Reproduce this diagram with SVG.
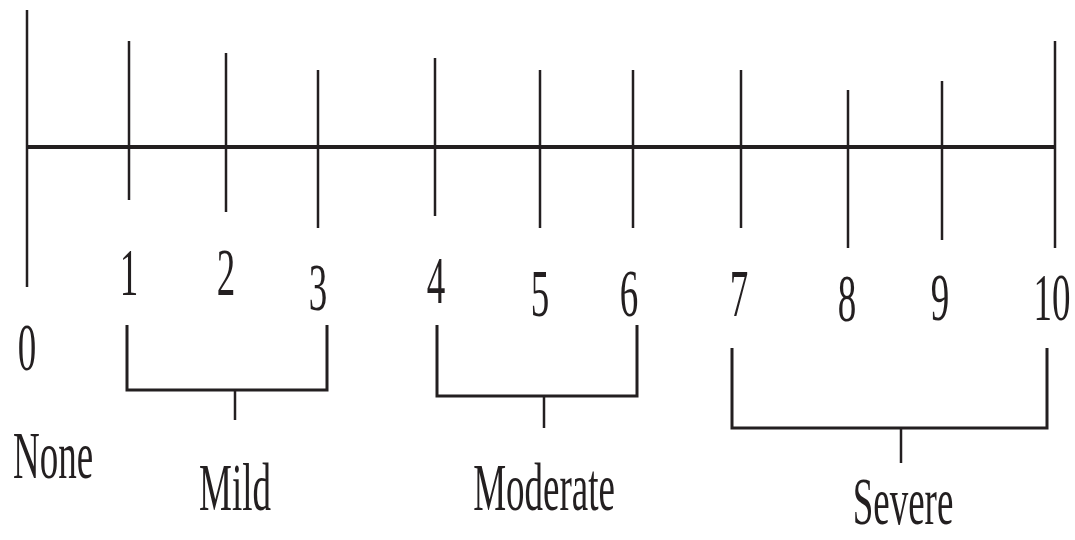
<svg xmlns="http://www.w3.org/2000/svg" width="1075" height="540" viewBox="0 0 1075 540">
<style>
.ln{stroke:#231f20;fill:none;stroke-width:2.5}
.main{stroke:#231f20;stroke-width:4}
.br{stroke:#231f20;fill:none;stroke-width:3}
text{font-family:"Liberation Serif","Times New Roman",serif;font-size:37px;fill:#231f20;text-anchor:middle}
</style>
<rect width="1075" height="540" fill="#fff"/>
<g id="connectors">
<line class="main" x1="27" y1="147" x2="1055" y2="147"/>
</g>
<g id="tick0"><line class="ln" x1="27" y1="10" x2="27" y2="287"/><text transform="translate(27,370) scale(1,1.85)">0</text></g>
<g id="tick1"><line class="ln" x1="129" y1="41" x2="129" y2="200"/><text transform="translate(129,295) scale(1,1.85)">1</text></g>
<g id="tick2"><line class="ln" x1="226" y1="53" x2="226" y2="212"/><text transform="translate(226,295) scale(1,1.85)">2</text></g>
<g id="tick3"><line class="ln" x1="318" y1="70" x2="318" y2="228"/><text transform="translate(318,310) scale(1,1.85)">3</text></g>
<g id="tick4"><line class="ln" x1="435" y1="58" x2="435" y2="216"/><text transform="translate(436,303) scale(1,1.85)">4</text></g>
<g id="tick5"><line class="ln" x1="540" y1="70" x2="540" y2="228"/><text transform="translate(540,316) scale(1,1.85)">5</text></g>
<g id="tick6"><line class="ln" x1="633" y1="70" x2="633" y2="228"/><text transform="translate(629,316) scale(1,1.85)">6</text></g>
<g id="tick7"><line class="ln" x1="741" y1="70" x2="741" y2="228"/><text transform="translate(739,316) scale(1,1.85)">7</text></g>
<g id="tick8"><line class="ln" x1="848" y1="90" x2="848" y2="248"/><text transform="translate(847,321) scale(1,1.85)">8</text></g>
<g id="tick9"><line class="ln" x1="942" y1="81" x2="942" y2="240"/><text transform="translate(940,320) scale(1,1.85)">9</text></g>
<g id="tick10"><line class="ln" x1="1055" y1="41" x2="1055" y2="248"/><text transform="translate(1052,320) scale(1,1.85)">10</text></g>
<g id="none"><text transform="translate(53,478) scale(1,1.85)">None</text></g>
<g id="mild">
<path class="br" d="M127,325 V390 H327 V325"/><line class="ln" x1="235" y1="390" x2="235" y2="420"/>
<text transform="translate(235,510) scale(1,1.85)">Mild</text>
</g>
<g id="moderate">
<path class="br" d="M437,325 V396 H637 V325"/><line class="ln" x1="544" y1="396" x2="544" y2="428"/>
<text transform="translate(544,510) scale(1,1.85)">Moderate</text>
</g>
<g id="severe">
<path class="br" d="M732,348 V428 H1047 V348"/><line class="ln" x1="901" y1="428" x2="901" y2="463"/>
<text transform="translate(903,524) scale(1,1.85)">Severe</text>
</g>
</svg>
